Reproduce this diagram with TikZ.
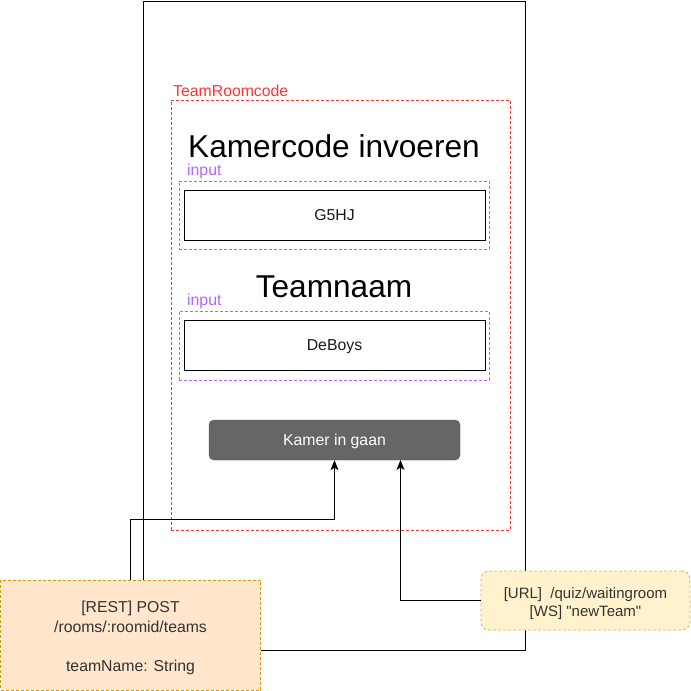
\documentclass[tikz,border=0pt]{standalone}
\usepackage{fontspec}
\setmainfont{Liberation Sans}[Ligatures=TeXOff]
\usetikzlibrary{arrows.meta}
\definecolor{redc}{HTML}{FF3333}
\definecolor{purp}{HTML}{B266FF}
\definecolor{btnfill}{HTML}{666666}
\definecolor{orfill}{HTML}{FFE6CC}
\definecolor{ordraw}{HTML}{D79B00}
\definecolor{yefill}{HTML}{FFF2CC}
\definecolor{yedraw}{HTML}{D6B656}
\definecolor{txt}{HTML}{333333}
\tikzset{
  reddash/.style={draw=redc, dashed, dash pattern=on 3pt off 2pt, line width=0.8pt},
  purpdash/.style={draw=purp, dashed, dash pattern=on 3pt off 2pt, line width=0.8pt},
  field/.style={draw=black, line width=1pt, font=\fontsize{15.8}{19}\selectfont, text=black!90, text height=11.3pt, text depth=0pt},
  title/.style={font=\fontsize{31.6}{36}\selectfont, anchor=base, inner sep=0pt},
  small/.style={font=\fontsize{15.8}{19.5}\selectfont},
  arr/.style={draw=black, line width=0.8pt, -{Stealth[length=10pt,width=8pt,inset=2.5pt]}},
}
\begin{document}
\begin{tikzpicture}[x=1pt,y=-1pt]
\useasboundingbox (0,0) rectangle (691,691);
% phone frame
\node[draw=black, line width=0.8pt, minimum width=382pt, minimum height=649pt, inner sep=0pt] (phone) at (334,325.5) {};
% red dashed container
\node[reddash, minimum width=339pt, minimum height=430pt, inner sep=0pt] (room) at (340.5,315) {};
\node[small, text=redc, anchor=base west, inner sep=0pt] (roomlbl) at (173,96) {TeamRoomcode};
% title 1
\node[title] (t1) at (334,157) {Kamercode invoeren};
\node[small, text=purp, anchor=base west, inner sep=0pt] (in1lbl) at (187,175) {input};
\node[purpdash, minimum width=310pt, minimum height=68pt, inner sep=0pt] (in1) at (334,215) {};
\node[field, minimum width=301pt, minimum height=50pt, inner sep=0pt] (f1) at (334.5,215) {G5HJ};
% title 2
\node[title] (t2) at (334,297) {Teamnaam};
\node[small, text=purp, anchor=base west, inner sep=0pt] (in2lbl) at (187,305) {input};
\node[purpdash, minimum width=310pt, minimum height=69pt, inner sep=0pt] (in2) at (334,345.5) {};
\node[field, minimum width=301pt, minimum height=50pt, inner sep=0pt] (f2) at (334.5,345) {DeBoys};
% button
\node[draw=black!70, fill=btnfill, rounded corners=5pt, minimum width=251pt, minimum height=40pt, inner sep=0pt, text=white, small, text height=11.3pt, text depth=0pt] (btn) at (334.5,440) {Kamer in gaan};
% orange note
\node[draw=ordraw, fill=orfill, dashed, dash pattern=on 3pt off 2pt, line width=0.8pt, minimum width=260pt, minimum height=110pt, inner sep=0pt, small, text=txt, align=center] (rest) at (130.5,635) {\rule{0pt}{17.5pt}[REST] POST\\/rooms/:roomid/teams\\[19.5pt]teamName: String};
% yellow note
\node[draw=yedraw, fill=yefill, dashed, dash pattern=on 3pt off 2pt, line width=0.8pt, rounded corners=8pt, minimum width=209pt, minimum height=59pt, inner sep=0pt, font=\fontsize{15}{18.5}\selectfont, text=txt, align=center] (ws) at (585.5,600.5) {\rule{0pt}{17pt}[URL]\ \ /quiz/waitingroom\\{}[WS] "newTeam"};
% connectors
\coordinate (b2) at (400.5,460);
\draw[arr] (rest.north) -- ++(0,-60) -| (btn.south);
\draw[arr] (ws.west) -| (b2);
\end{tikzpicture}
\end{document}
